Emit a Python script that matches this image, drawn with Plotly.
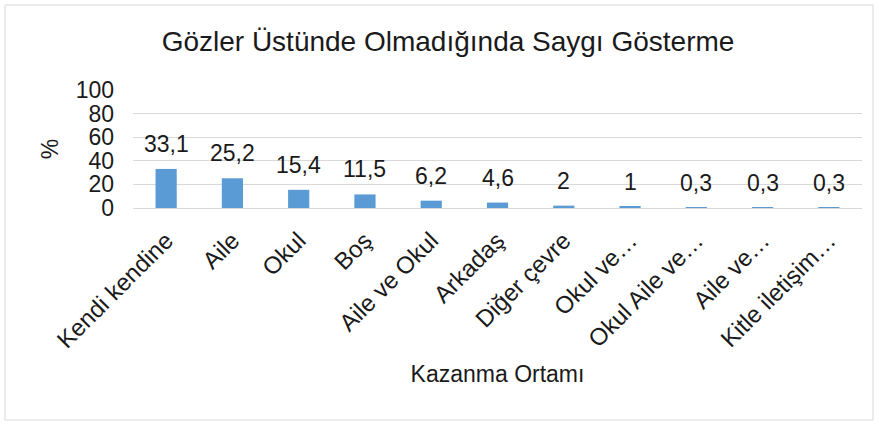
import plotly.graph_objects as go

categories = ["Kendi kendine", "Aile", "Okul", "Boş", "Aile ve Okul", "Arkadaş",
              "Diğer çevre", "Okul ve…", "Okul Aile ve…", "Aile ve…", "Kitle iletişim…"]
values = [33.1, 25.2, 15.4, 11.5, 6.2, 4.6, 2, 1, 0.3, 0.3, 0.3]
labels = ["33,1", "25,2", "15,4", "11,5", "6,2", "4,6", "2", "1", "0,3", "0,3", "0,3"]
y_ticks = [0, 20, 40, 60, 80, 100]

FONT = "Liberation Sans, Arial, sans-serif"
TXT = "#1a1a1a"
W, H = 879, 426
ML, MR, MT, MB = 133, 17, 90, 218

fig = go.Figure()
fig.add_trace(go.Bar(x=categories, y=values, marker_color="#5B9BD5",
                     marker_line_width=0, hoverinfo="skip"))

for c, v, t in zip(categories, values, labels):
    fig.add_annotation(x=c, y=v, text=t, showarrow=False, yanchor="bottom",
                       yshift=10, font=dict(family=FONT, size=23, color=TXT))

fig.update_layout(
    width=W, height=H,
    margin=dict(l=ML, r=MR, t=MT, b=MB, autoexpand=False),
    paper_bgcolor="white", plot_bgcolor="white",
    bargap=0.68,
    showlegend=False,
    title=dict(text="Gözler Üstünde Olmadığında Saygı Gösterme",
               x=448 / W, xanchor="center", y=1 - 41 / H, yanchor="middle",
               font=dict(family=FONT, size=28, color=TXT)),
    font=dict(family=FONT, color=TXT),
)
fig.update_yaxes(range=[0, 100], tickvals=y_ticks, ticktext=[str(v) for v in y_ticks],
                 showgrid=True, gridcolor="#D9D9D9", gridwidth=1,
                 zeroline=False, showline=False, ticks="", ticklabelstandoff=18,
                 tickfont=dict(family=FONT, size=23, color=TXT),
                 title=dict(text="%", standoff=10,
                            font=dict(family=FONT, size=23, color=TXT)))
fig.update_xaxes(tickangle=-45, showline=True, linecolor="#D9D9D9", linewidth=1,
                 ticks="", ticklabelstandoff=8,
                 tickfont=dict(family=FONT, size=24, color=TXT),
                 title=dict(text="Kazanma Ortamı", standoff=13,
                            font=dict(family=FONT, size=23, color=TXT)))

fig.add_shape(type="rect", xref="paper", yref="paper",
              x0=(5 - ML) / (W - ML - MR), x1=(873 - ML) / (W - ML - MR),
              y0=(H - MB - 420) / (H - MT - MB), y1=(H - MB - 5) / (H - MT - MB),
              line=dict(color="#D9D9D9", width=1), layer="below")

fig.write_html("out.html", config={"displayModeBar": False},
               post_script="document.body.style.margin='0';document.body.style.overflow='hidden';")
